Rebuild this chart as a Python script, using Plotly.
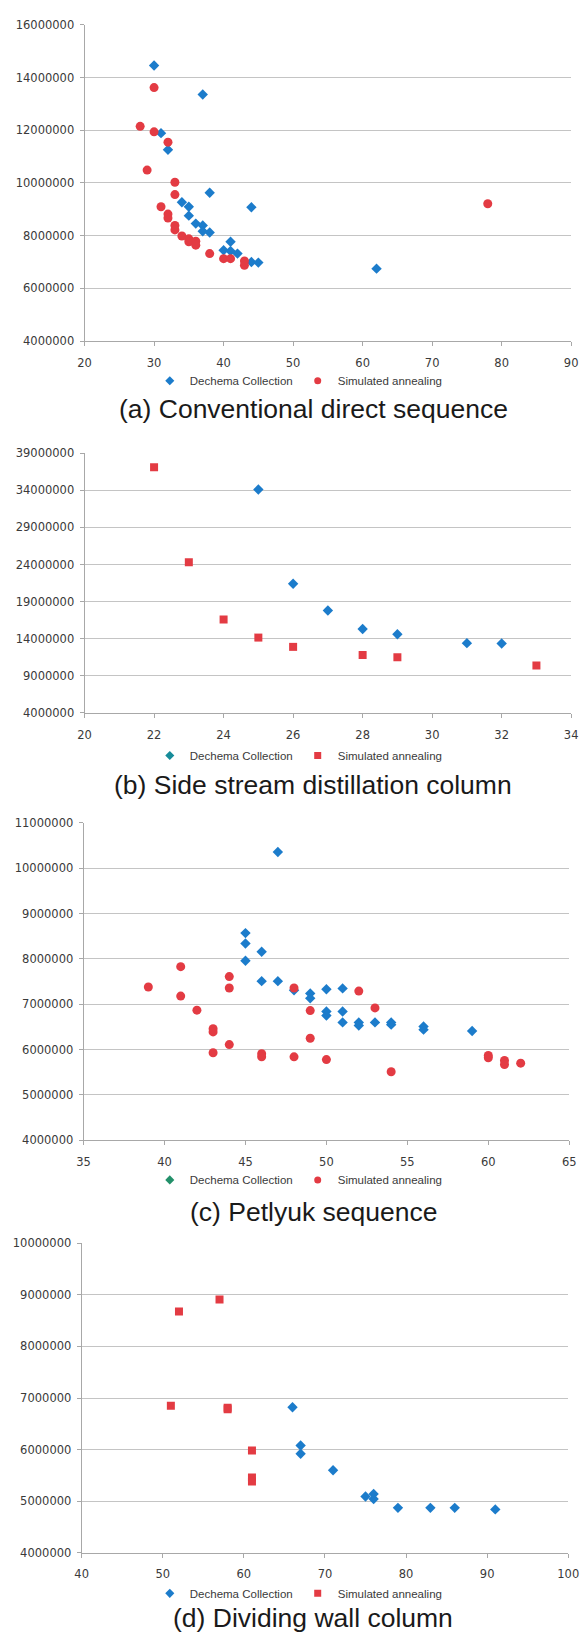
import plotly.graph_objects as go

# ---------------- data ----------------
# (a) Conventional direct sequence
a_dech_x = [30, 37, 31, 32, 38, 44, 34, 35, 35, 36, 37, 37, 38, 40, 41, 41, 42, 44, 45, 62]
a_dech_y = [14460000, 13360000, 11890000, 11260000, 9630000, 9080000, 9270000, 9100000, 8760000,
            8460000, 8390000, 8170000, 8120000, 7450000, 7770000, 7420000, 7320000, 7000000,
            6980000, 6750000]
a_sa_x = [30, 28, 30, 32, 29, 33, 33, 31, 32, 32, 33, 33, 34, 35, 35, 36, 36, 38, 40, 41, 43, 43, 78]
a_sa_y = [13620000, 12150000, 11940000, 11550000, 10490000, 10030000, 9560000, 9100000, 8820000,
          8670000, 8390000, 8220000, 7990000, 7880000, 7770000, 7790000, 7640000, 7320000,
          7130000, 7130000, 7040000, 6880000, 9210000]

# (b) Side stream distillation column
b_dech_x = [25, 26, 27, 28, 29, 31, 32]
b_dech_y = [34100000, 21400000, 17800000, 15300000, 14600000, 13400000, 13350000]
b_sa_x = [22, 23, 24, 25, 26, 28, 29, 33]
b_sa_y = [37100000, 24300000, 16600000, 14150000, 12900000, 11800000, 11500000, 10400000]

# (c) Petlyuk sequence
c_dech_x = [47, 45, 45, 45, 46, 46, 47, 48, 49, 49, 50, 51, 50, 50, 51, 51, 52, 52, 53, 54, 54, 56, 56, 59]
c_dech_y = [10360000, 8570000, 8340000, 7960000, 8160000, 7510000, 7510000, 7310000, 7240000,
            7130000, 7330000, 7350000, 6840000, 6750000, 6840000, 6600000, 6600000, 6530000,
            6600000, 6600000, 6550000, 6510000, 6440000, 6410000]
c_sa_x = [39, 41, 41, 42, 43, 43, 43, 44, 44, 44, 46, 46, 48, 48, 49, 49, 50, 52, 53, 54, 60, 60, 61, 61, 62]
c_sa_y = [7380000, 7830000, 7180000, 6870000, 6460000, 6390000, 5930000, 7610000, 7360000,
          6110000, 5910000, 5840000, 7360000, 5840000, 6860000, 6250000, 5780000, 7290000,
          6920000, 5510000, 5870000, 5820000, 5760000, 5670000, 5700000]

# (d) Dividing wall column
d_dech_x = [66, 67, 67, 71, 75, 76, 76, 79, 83, 86, 91]
d_dech_y = [6820000, 6080000, 5920000, 5600000, 5090000, 5140000, 5040000, 4870000, 4870000,
            4870000, 4840000]
d_sa_x = [57, 52, 51, 58, 58, 61, 61, 61]
d_sa_y = [8910000, 8680000, 6850000, 6810000, 6780000, 5980000, 5460000, 5380000]

series_names = ["Dechema Collection", "Simulated annealing"]
titles = ["(a) Conventional direct sequence", "(b) Side stream distillation column",
          "(c) Petlyuk sequence", "(d) Dividing wall column"]

# ---------------- styling ----------------
W, H = 588, 1639
BLUE = "#1C7CCB"
RED = "#E33B43"
LEG_DIAMOND = [BLUE, "#178C9A", "#23906A", BLUE]
SA_SYMBOL = ["circle", "square", "circle", "square"]

panels = [
    dict(dx=a_dech_x, dy=a_dech_y, sx=a_sa_x, sy=a_sa_y, xr=[20, 90], xd=10, yr=[4e6, 16e6], yd=2e6,
         px=(80, 582), py=(18, 337), leg=377, title=405),
    dict(dx=b_dech_x, dy=b_dech_y, sx=b_sa_x, sy=b_sa_y, xr=[20, 34], xd=2, yr=[4e6, 39e6], yd=5e6,
         px=(80, 582), py=(450, 712), leg=755, title=785),
    dict(dx=c_dech_x, dy=c_dech_y, sx=c_sa_x, sy=c_sa_y, xr=[35, 65], xd=5, yr=[4e6, 11e6], yd=1e6,
         px=(79, 580), py=(823, 1143), leg=1183, title=1215),
    dict(dx=d_dech_x, dy=d_dech_y, sx=d_sa_x, sy=d_sa_y, xr=[40, 100], xd=10, yr=[4e6, 10e6], yd=1e6,
         px=(77, 579), py=(1247, 1559), leg=1600, title=1625),
]

fig = go.Figure()
layout = dict(width=W, height=H, margin=dict(l=0, r=0, t=0, b=0),
              paper_bgcolor="white", plot_bgcolor="white", showlegend=True,
              annotations=[])

tick_font = dict(family="DejaVu Sans", size=11.5, color="#3A3A3A")

for i, p in enumerate(panels):
    k = "" if i == 0 else str(i + 1)
    xa, ya = "x" + k, "y" + k
    leg = "legend" + k
    # data traces
    fig.add_trace(go.Scatter(x=p["dx"], y=p["dy"], mode="markers", name=series_names[0],
                             xaxis=xa, yaxis=ya, showlegend=False,
                             marker=dict(symbol="diamond", size=8, color=BLUE)))
    fig.add_trace(go.Scatter(x=p["sx"], y=p["sy"], mode="markers", name=series_names[1],
                             xaxis=xa, yaxis=ya, showlegend=False,
                             marker=dict(symbol=SA_SYMBOL[i], size=9 if SA_SYMBOL[i] == "circle" else 8,
                                         color=RED)))
    # legend entries
    fig.add_trace(go.Scatter(x=[None], y=[None], mode="markers", name=series_names[0],
                             xaxis=xa, yaxis=ya, legend=leg,
                             marker=dict(symbol="diamond", size=7, color=LEG_DIAMOND[i])))
    fig.add_trace(go.Scatter(x=[None], y=[None], mode="markers", name=series_names[1],
                             xaxis=xa, yaxis=ya, legend=leg,
                             marker=dict(symbol=SA_SYMBOL[i], size=7, color=RED)))

    layout["xaxis" + k] = dict(
        domain=[p["px"][0] / W, p["px"][1] / W], anchor=ya, range=p["xr"],
        tick0=p["xr"][0], dtick=p["xd"], showgrid=False, zeroline=False,
        showline=True, linecolor="#A8A8A8", linewidth=1,
        ticks="outside", ticklen=4, tickcolor="#A8A8A8",
        tickfont=tick_font, ticklabelstandoff=7)
    layout["yaxis" + k] = dict(
        domain=[1 - p["py"][1] / H, 1 - p["py"][0] / H], anchor=xa, range=p["yr"],
        tick0=p["yr"][0], dtick=p["yd"], tickformat="d",
        showgrid=True, gridcolor="#C4C4C4", gridwidth=1, zeroline=False,
        showline=True, linecolor="#A8A8A8", linewidth=1,
        ticks="outside", ticklen=4, tickcolor="#A8A8A8",
        tickfont=tick_font, ticklabelstandoff=3)
    layout[leg] = dict(orientation="h", x=301 / W, xanchor="center",
                       y=1 - p["leg"] / H, yanchor="middle",
                       font=dict(family="Liberation Sans", size=11.5, color="#3A3A3A"),
                       bgcolor="rgba(0,0,0,0)", itemwidth=30, tracegroupgap=0)
    layout["annotations"].append(dict(
        text=titles[i], x=316 / W, y=1 - p["title"] / H, xref="paper", yref="paper",
        xanchor="center", yanchor="middle", showarrow=False,
        font=dict(family="Liberation Sans", size=26.5, color="#1A1A1A")))

fig.update_layout(**layout)
fig.write_html("out.html")
